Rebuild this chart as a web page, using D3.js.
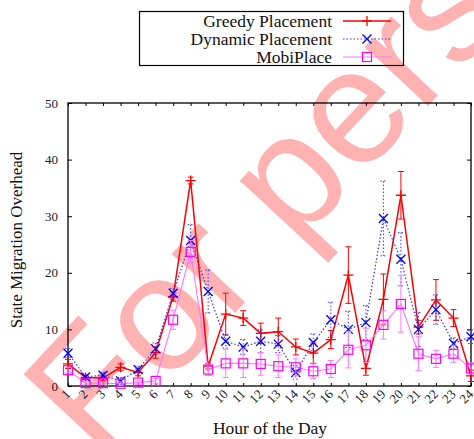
<!DOCTYPE html>
<html>
<head>
<meta charset="utf-8">
<script src="https://cdn.jsdelivr.net/npm/d3@7"></script>
<style>
  html, body { margin: 0; padding: 0; background: #fff; }
  svg { display: block; }
  text { font-family: "Liberation Serif", "Times New Roman", serif; }
</style>
</head>
<body>
<svg id="chart" width="474" height="439"></svg>
<script>
const hours = d3.range(1, 25);
const greedy    = [3.9, 1.5, 1.4, 3.3, 2.4, 5.9, 15.8, 36.3, 3.5, 12.7, 12.0, 9.3, 9.6, 6.9, 5.8, 8.2, 19.6, 3.1, 15.3, 33.7, 10.4, 15.2, 12.0, 1.8];
const greedyErr = [0.8, 0.4, 0.4, 0.6, 0.6, 1.0, 0.8, 0.6, 0.5, 3.7, 1.3, 1.8, 2.4, 1.4, 1.8, 1.6, 5.0, 1.2, 4.5, 4.2, 1.2, 3.6, 1.5, 1.0];
const dynamic    = [5.8, 1.6, 1.9, 0.9, 2.9, 6.6, 16.4, 25.7, 16.7, 7.9, 6.9, 7.9, 7.4, 2.4, 7.7, 11.7, 10.0, 11.2, 29.6, 22.4, 10.0, 13.5, 7.5, 8.7];
const dynamicErr = [0.8, 0.4, 0.5, 0.6, 0.6, 1.0, 0.8, 2.8, 3.8, 1.2, 1.3, 2.0, 1.5, 1.2, 1.5, 3.1, 3.2, 3.0, 6.6, 4.7, 3.0, 2.6, 1.0, 1.2];
const mobi    = [2.8, 0.5, 0.5, 0.4, 0.6, 0.9, 11.7, 23.7, 2.9, 4.0, 4.0, 3.9, 3.5, 3.3, 2.6, 3.0, 6.4, 7.2, 10.8, 14.5, 5.7, 4.8, 5.7, 3.1];
const mobiErr = [0.5, 0.3, 0.3, 0.3, 0.3, 0.4, 1.7, 2.0, 1.0, 2.5, 2.5, 2.0, 2.0, 1.5, 1.3, 1.5, 3.2, 3.0, 2.5, 5.0, 3.0, 1.5, 1.5, 1.0];
const yTicks = [0, 10, 20, 30, 40, 50];
const seriesNames = ["Greedy Placement", "Dynamic Placement", "MobiPlace"];
const xTitle = "Hour of the Day";
const yTitle = "State Migration Overhead";
const watermark = "For personal use only";

const svg = d3.select("#chart");
const L = 68, R = 471, T = 103, B = 386;
const x = d3.scaleLinear().domain([1, 24]).range([L, R]);
const y = d3.scaleLinear().domain([0, 50]).range([B, T]);

// watermark (background)
svg.append("text")
  .attr("transform", "translate(97,461) rotate(-47)")
  .style("font-family", "'Liberation Sans', Arial, sans-serif")
  .attr("font-size", 164)
  .attr("fill", "#ff0000")
  .attr("fill-opacity", 0.3)
  .text(watermark);

// frame
svg.append("rect").attr("x", L).attr("y", T).attr("width", R - L).attr("height", B - T)
  .attr("fill", "none").attr("stroke", "#000").attr("stroke-width", 1.3);

// y axis
const yAxisL = d3.axisLeft(y).tickValues(yTicks).tickSize(-4).tickPadding(10);
const gy = svg.append("g").attr("transform", `translate(${L},0)`).call(yAxisL);
gy.select(".domain").remove();
gy.selectAll("text").attr("font-size", 13).attr("fill", "#222")
  .style("font-family", "'Liberation Serif', 'Times New Roman', serif");
const yAxisR = d3.axisRight(y).tickValues(yTicks).tickSize(-4).tickFormat("");
const gyr = svg.append("g").attr("transform", `translate(${R},0)`).call(yAxisR);
gyr.select(".domain").remove();

// x axis
const xAxisB = d3.axisBottom(x).tickValues(hours).tickSize(-3).tickFormat("");
const gx = svg.append("g").attr("transform", `translate(0,${B})`).call(xAxisB);
gx.select(".domain").remove();
const xAxisT = d3.axisTop(x).tickValues(hours).tickSize(-3).tickFormat("");
const gxt = svg.append("g").attr("transform", `translate(0,${T})`).call(xAxisT);
gxt.select(".domain").remove();
svg.selectAll(".tick line").attr("stroke", "#000");

svg.append("g").selectAll("text").data(hours).join("text")
  .attr("transform", d => `translate(${x(d) + 3},${B + 9}) rotate(-45)`)
  .attr("text-anchor", "end")
  .attr("font-size", 13).attr("fill", "#222")
  .text(d => d);

// titles
svg.append("text").attr("x", 270).attr("y", 434).attr("text-anchor", "middle")
  .attr("font-size", 17.5).attr("fill", "#111").text(xTitle);
svg.append("text").attr("transform", "translate(22,240) rotate(-90)")
  .attr("text-anchor", "middle").attr("font-size", 17).attr("fill", "#111").text(yTitle);

// series
const series = [
  { name: seriesNames[0], vals: greedy, errs: greedyErr, color: "#ff0000", lineColor: "#ff0000", width: 1.5, dash: null, marker: "plus" },
  { name: seriesNames[1], vals: dynamic, errs: dynamicErr, color: "#0000ff", lineColor: "#3333ff", width: 1.2, dash: "1.5,2", marker: "cross" },
  { name: seriesNames[2], vals: mobi, errs: mobiErr, color: "#ff00ff", lineColor: "#ff77ff", width: 1.1, dash: null, marker: "square" }
];

function drawMarker(g, type, cx, cy, color) {
  if (type === "plus") {
    g.append("path").attr("d", `M${cx-5},${cy}H${cx+5}M${cx},${cy-5}V${cy+5}`)
      .attr("stroke", color).attr("stroke-width", 1.3).attr("fill", "none");
  } else if (type === "cross") {
    g.append("path").attr("d", `M${cx-4.5},${cy-4.5}L${cx+4.5},${cy+4.5}M${cx-4.5},${cy+4.5}L${cx+4.5},${cy-4.5}`)
      .attr("stroke", color).attr("stroke-width", 1.3).attr("fill", "none");
  } else {
    g.append("rect").attr("x", cx - 4.5).attr("y", cy - 4.5).attr("width", 9).attr("height", 9)
      .attr("stroke", color).attr("stroke-width", 1.2).attr("fill", "none");
  }
}

const line = d3.line().x((d, i) => x(hours[i])).y(d => y(d));
series.forEach(s => {
  const g = svg.append("g");
  s.vals.forEach((v, i) => {
    const cx = x(hours[i]), y1 = y(v + s.errs[i]), y0 = y(Math.max(0, v - s.errs[i]));
    const p = `M${cx},${y1}V${y0}M${cx-3},${y1}H${cx+3}M${cx-3},${y0}H${cx+3}`;
    g.append("path").attr("d", p).attr("stroke", s.lineColor).attr("stroke-width", 1)
      .attr("fill", "none").attr("stroke-dasharray", s.dash);
  });
  g.append("path").datum(s.vals).attr("d", line).attr("fill", "none")
    .attr("stroke", s.lineColor).attr("stroke-width", s.width).attr("stroke-dasharray", s.dash);
  s.vals.forEach((v, i) => drawMarker(g, s.marker, x(hours[i]), y(v), s.color));
});

// legend
const lg = svg.append("g");
lg.append("rect").attr("x", 139.5).attr("y", 11.5).attr("width", 264).attr("height", 54)
  .attr("fill", "none").attr("stroke", "#000").attr("stroke-width", 1.2);
const rowY = [21, 39, 57];
series.forEach((s, i) => {
  lg.append("text").attr("x", 332).attr("y", rowY[i] + 6).attr("text-anchor", "end")
    .attr("font-size", 17.5).attr("fill", "#111").text(s.name);
  lg.append("line").attr("x1", 343).attr("x2", 391).attr("y1", rowY[i]).attr("y2", rowY[i])
    .attr("stroke", s.lineColor).attr("stroke-width", s.width).attr("stroke-dasharray", s.dash);
  drawMarker(lg, s.marker, 367, rowY[i], s.color);
});
</script>
</body>
</html>
